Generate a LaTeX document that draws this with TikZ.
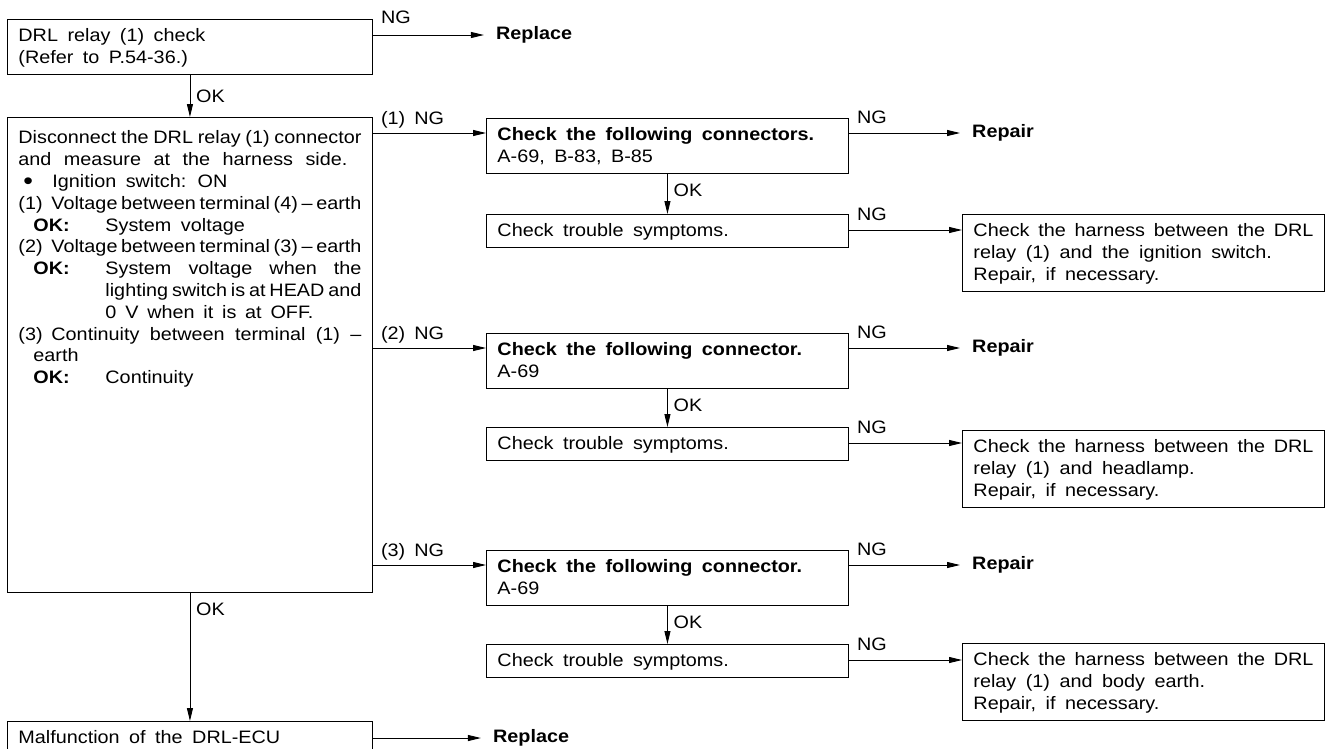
\documentclass[tikz,border=0pt]{standalone}
\usepackage{fontspec}
\setmainfont{Liberation Sans}[FakeStretch=1.1]
\usetikzlibrary{arrows.meta,calc}
\newcommand\ssk{\spaceskip=9.5pt plus 4pt minus 7pt\relax}
\newcommand\st{\ssk\rule[-5pt]{0pt}{22pt}}
\newcommand\fs{\fontsize{18pt}{22pt}\selectfont\lineskiplimit=-30pt\parindent=0pt\ssk}
\newcommand\bigdot{\raisebox{-2pt}{\fontsize{25pt}{25pt}\selectfont\textbullet}}
\begin{document}
\begin{tikzpicture}[x=1pt,y=-1pt,
  box/.style={draw, line width=0.9pt, inner xsep=11pt, inner ysep=5.5pt, anchor=north west, align=left, font=\fs},
  lbl/.style={inner sep=0pt, anchor=base west, font=\fs},
  oklbl/.style={inner sep=0pt, anchor=west, font=\fs},
  res/.style={inner xsep=12pt, inner ysep=0pt, anchor=west, font=\fs\bfseries},
  arr/.style={line width=0.9pt, -{Triangle[length=13pt,width=6pt]}}]
\useasboundingbox (0,0) rectangle (1330,748);
\clip (0,0) rectangle (1330,748);

% left column
\node[box, text width=343pt] (A) at (7,19) {\st DRL relay (1) check\\\ssk(Refer to P.54-36.)\st};
\node[box] (B) at (7,117) {\parbox[t][464pt][t]{343pt}{\baselineskip=21.8pt\lineskiplimit=-30pt\parindent=0pt\ssk
\hbox to 343pt{\rule{0pt}{21pt}Disconnect the DRL relay (1) connector}
\hbox to 329pt{and measure at the harness side.}
\hbox{\hskip5pt\hbox to 29pt{\bigdot\hfil}Ignition switch: ON}
\hbox to 343pt{\hbox to 33pt{(1)\hfil}Voltage between terminal (4) \textendash{} earth}
\hbox{\hskip15pt\hbox to 72pt{\textbf{OK:}\hfil}System voltage}
\hbox to 343pt{\hbox to 33pt{(2)\hfil}Voltage between terminal (3) \textendash{} earth}
\hbox to 343pt{\hskip15pt\hbox to 72pt{\textbf{OK:}\hfil}System voltage when the}
\hbox to 343pt{\hskip87pt lighting switch is at HEAD and}
\hbox{\hskip87pt\hbox to 208pt{0 V when it is at OFF.}}
\hbox to 343pt{\hbox to 33pt{(3)\hfil}Continuity between terminal (1) \textendash}
\hbox{\hskip15pt earth}
\hbox{\hskip15pt\hbox to 72pt{\textbf{OK:}\hfil}Continuity}
}};
\node[box] (M) at (7,721) {\parbox[t][40pt][t]{343pt}{\st Malfunction of the DRL-ECU}};

% middle column
\node[box, text width=340pt] (C1) at (486,118) {\st\textbf{Check the following connectors.}\\\ssk A-69, B-83, B-85\st};
\node[box, text width=340pt] (T1) at (486,214) {\st Check trouble symptoms.};
\node[box, text width=340pt] (C2) at (486,333) {\st\textbf{Check the following connector.}\\\ssk A-69\st};
\node[box, text width=340pt] (T2) at (486,427) {\st Check trouble symptoms.};
\node[box, text width=340pt] (C3) at (486,550) {\st\textbf{Check the following connector.}\\\ssk A-69\st};
\node[box, text width=340pt] (T3) at (486,644) {\st Check trouble symptoms.};

% right column
\node[box, text width=340pt] (H1) at (962,214) {\st\makebox[340pt][s]{Check the harness between the DRL}\\\ssk relay (1) and the ignition switch.\\\ssk Repair, if necessary.\st};
\node[box, text width=340pt] (H2) at (962,430) {\st\makebox[340pt][s]{Check the harness between the DRL}\\\ssk relay (1) and headlamp.\\\ssk Repair, if necessary.\st};
\node[box, text width=340pt] (H3) at (962,643) {\st\makebox[340pt][s]{Check the harness between the DRL}\\\ssk relay (1) and body earth.\\\ssk Repair, if necessary.\st};

% ports
\coordinate (Aport) at ([yshift=-16pt]A.north east);
\coordinate (Mport) at ([yshift=-17pt]M.north east);
\coordinate (C1in) at ([yshift=-15pt]C1.north west);
\coordinate (C2in) at ([yshift=-15pt]C2.north west);
\coordinate (C3in) at ([yshift=-15pt]C3.north west);
\coordinate (C1out) at ([yshift=-15pt]C1.north east);
\coordinate (C2out) at ([yshift=-15pt]C2.north east);
\coordinate (C3out) at ([yshift=-15pt]C3.north east);
\coordinate (T1out) at ([yshift=-16pt]T1.north east);
\coordinate (T2out) at ([yshift=-16pt]T2.north east);
\coordinate (T3out) at ([yshift=-16pt]T3.north east);
\coordinate (B1) at (B.east |- C1in);
\coordinate (B2) at (B.east |- C2in);
\coordinate (B3) at (B.east |- C3in);

% results
\node[res] (RA) at ($(Aport)+(111,0)$) {Replace};
\node[res] (RM) at ($(Mport)+(108,0)$) {Replace};
\node[res] (R1) at (C1out -| 960,0) {Repair};
\node[res] (R2) at (C2out -| 960,0) {Repair};
\node[res] (R3) at (C3out -| 960,0) {Repair};

% connectors
\draw[arr] (Aport) -- (RA.west);
\draw[arr] (Mport) -- (RM.west);
\draw[arr] (A.south) -- (B.north);
\draw[arr] (B.south) -- (M.north);
\draw[arr] (B1) -- (C1in);
\draw[arr] (B2) -- (C2in);
\draw[arr] (B3) -- (C3in);
\draw[arr] (C1out) -- (R1.west);
\draw[arr] (C2out) -- (R2.west);
\draw[arr] (C3out) -- (R3.west);
\draw[arr] (C1.south) -- (T1.north);
\draw[arr] (C2.south) -- (T2.north);
\draw[arr] (C3.south) -- (T3.north);
\draw[arr] (T1out) -- (T1out -| H1.west);
\draw[arr] (T2out) -- (T2out -| H2.west);
\draw[arr] (T3out) -- (T3out -| H3.west);

% labels
\node[lbl] (ngA) at ([xshift=8pt,yshift=12pt]Aport) {NG};
\node[lbl] (ng1) at ([xshift=8pt,yshift=9pt]B1) {(1)\hspace{9pt}NG};
\node[lbl] (ng2) at ([xshift=8pt,yshift=9pt]B2) {(2)\hspace{9pt}NG};
\node[lbl] (ng3) at ([xshift=8pt,yshift=9pt]B3) {(3)\hspace{9pt}NG};
\node[lbl] (ngC1) at ([xshift=8pt,yshift=10pt]C1out) {NG};
\node[lbl] (ngC2) at ([xshift=8pt,yshift=10pt]C2out) {NG};
\node[lbl] (ngC3) at ([xshift=8pt,yshift=10pt]C3out) {NG};
\node[lbl] (ngT1) at ([xshift=8pt,yshift=10pt]T1out) {NG};
\node[lbl] (ngT2) at ([xshift=8pt,yshift=10pt]T2out) {NG};
\node[lbl] (ngT3) at ([xshift=8pt,yshift=10pt]T3out) {NG};
\node[oklbl] (okA) at ([xshift=6pt,yshift=-21pt]A.south) {OK};
\node[oklbl] (okB) at ([xshift=6pt,yshift=-16pt]B.south) {OK};
\node[oklbl] (okC1) at ([xshift=6pt,yshift=-16pt]C1.south) {OK};
\node[oklbl] (okC2) at ([xshift=6pt,yshift=-16pt]C2.south) {OK};
\node[oklbl] (okC3) at ([xshift=6pt,yshift=-16pt]C3.south) {OK};
\end{tikzpicture}
\end{document}
